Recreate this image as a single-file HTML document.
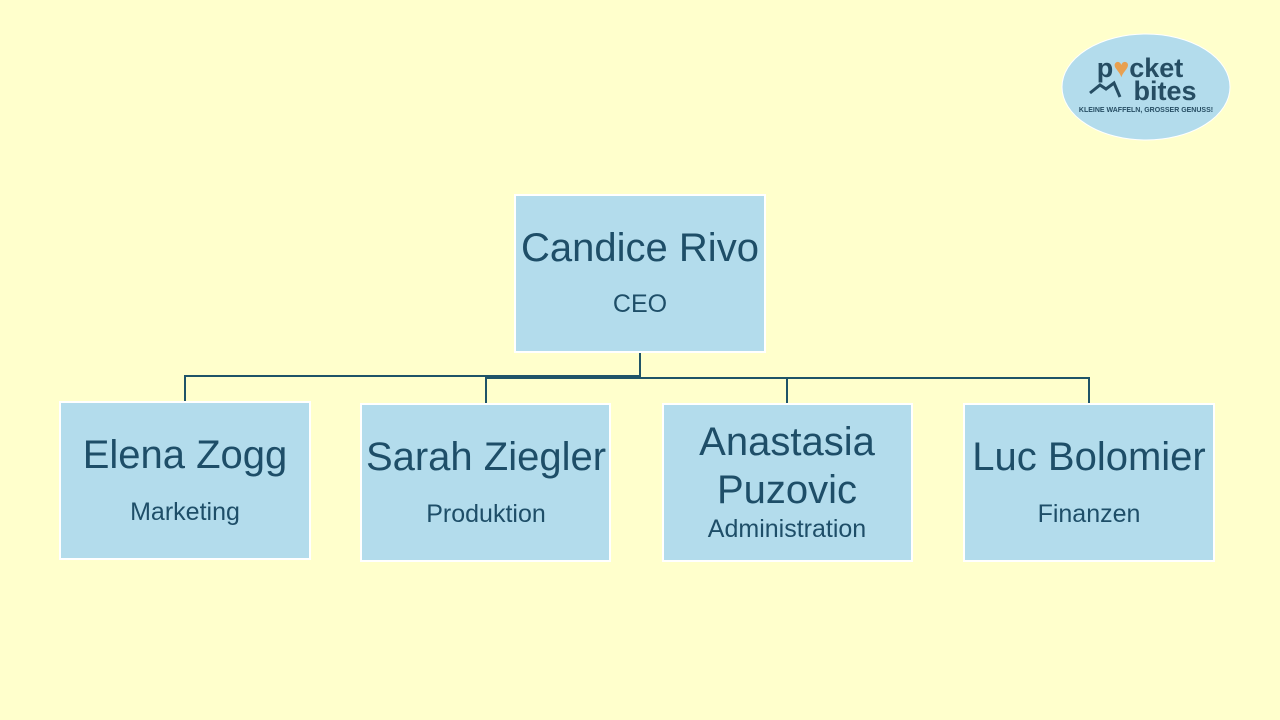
<!DOCTYPE html>
<html><head><meta charset="utf-8"><style>
body{margin:0;background:#ffffcc;}
svg{display:block}
text{font-family:"Liberation Sans",sans-serif;fill:#1e4e68;text-anchor:middle}
</style></head><body>
<svg width="1280" height="720" viewBox="0 0 1280 720">
<rect width="1280" height="720" fill="#ffffcc"/>
<g stroke="#1f5468" stroke-width="2" fill="none">
<line x1="640" y1="352" x2="640" y2="377"/>
<polyline points="185,401 185,376 640,376"/>
<polyline points="486,403 486,378 1089,378 1089,403"/>
<line x1="787" y1="378" x2="787" y2="403"/>
</g>
<g fill="#b3dcec" stroke="#ffffff" stroke-width="2">
<rect x="515" y="195" width="250" height="157"/>
<rect x="60" y="402" width="250" height="157"/>
<rect x="361" y="404" width="249" height="157"/>
<rect x="663" y="404" width="249" height="157"/>
<rect x="964" y="404" width="250" height="157"/>
</g>
<text x="640" y="261" font-size="40">Candice Rivo</text>
<text x="640" y="312" font-size="25">CEO</text>
<text x="185" y="468" font-size="40">Elena Zogg</text>
<text x="185" y="520" font-size="25">Marketing</text>
<text x="486" y="470" font-size="40">Sarah Ziegler</text>
<text x="486" y="522" font-size="25">Produktion</text>
<text x="787" y="455" font-size="40">Anastasia</text>
<text x="787" y="503" font-size="40">Puzovic</text>
<text x="787" y="537" font-size="25">Administration</text>
<text x="1089" y="470" font-size="40">Luc Bolomier</text>
<text x="1089" y="522" font-size="25">Finanzen</text>
<ellipse cx="1146" cy="87" rx="84" ry="53" fill="#b3dcec" stroke="#ffffff" stroke-width="1"/>
<text x="1140" y="77" font-size="27" font-weight="bold" style="fill:#264d63">p<tspan style="fill:#e8a050">♥</tspan>cket</text>
<text x="1165" y="100" font-size="27" font-weight="bold" style="fill:#264d63">bites</text>
<path d="M1090 93 l10 -8 l6 4 l8 -6 l6 14" stroke="#264d63" stroke-width="3" fill="none"/>
<text x="1146" y="112" font-size="7" font-weight="bold" style="fill:#264d63">KLEINE WAFFELN, GROSSER GENUSS!</text>
</svg>
</body></html>
